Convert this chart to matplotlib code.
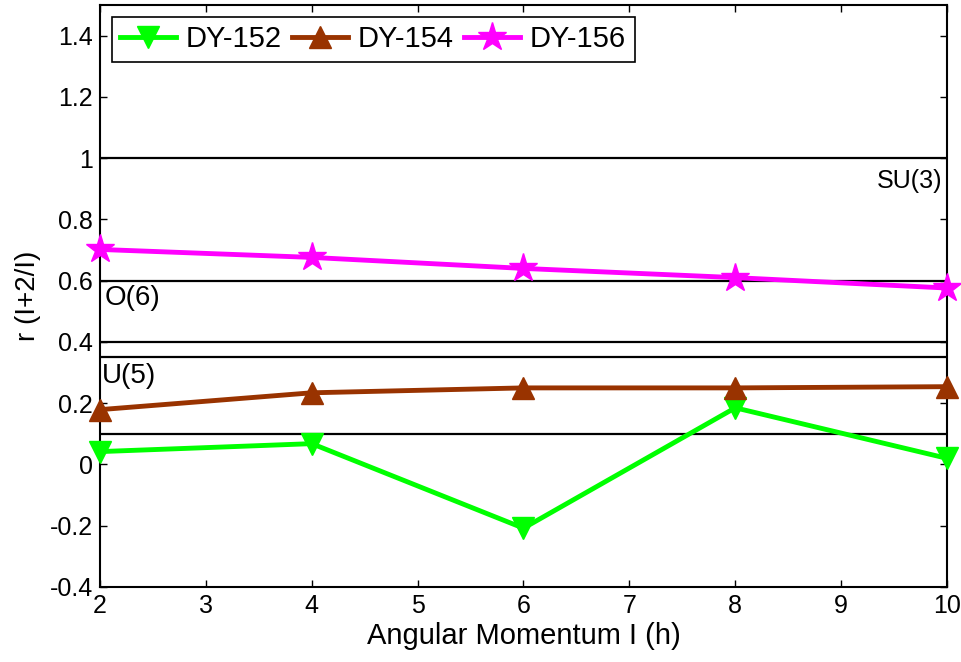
import matplotlib
matplotlib.use("Agg")
import matplotlib.pyplot as plt

plt.rcParams['font.family'] = ['Liberation Sans', 'DejaVu Sans']

spins = [2, 4, 6, 8, 10]
dy152 = [0.042, 0.068, -0.208, 0.185, 0.02]
dy154 = [0.179, 0.234, 0.250, 0.250, 0.254]
dy156 = [0.702, 0.676, 0.640, 0.610, 0.576]
limit_lines = [1.0, 0.6, 0.4, 0.35, 0.1]
limit_labels = ["SU(3)", "O(6)", "U(5)"]

fig = plt.figure(figsize=(9.62, 6.62), dpi=100)
ax = fig.add_axes([100/962, 1-587/662, 847/962, 582/662])

for y in limit_lines:
    ax.axhline(y, color='black', lw=1.6, zorder=1)

ax.plot(spins, dy152, color='#00FF00', lw=3.5, marker='v', ms=16, label='DY-152', zorder=3, clip_on=False)
ax.plot(spins, dy154, color='#993300', lw=3.5, marker='^', ms=16, label='DY-154', zorder=3, clip_on=False)
ax.plot(spins, dy156, color='#FF00FF', lw=3.5, marker='*', ms=21, label='DY-156', zorder=3, clip_on=False)

ax.text(9.96, 0.965, limit_labels[0], ha='right', va='top', fontsize=18)
ax.text(2.04, 0.585, limit_labels[1], ha='left', va='top', fontsize=20)
ax.text(2.02, 0.33, limit_labels[2], ha='left', va='top', fontsize=20)

ax.set_xlim(2, 10)
ax.set_ylim(-0.4, 1.5)
ax.set_xticks(range(2, 11))
ax.set_yticks([-0.4, -0.2, 0, 0.2, 0.4, 0.6, 0.8, 1.0, 1.2, 1.4])
ax.set_yticklabels(['-0.4', '-0.2', '0', '0.2', '0.4', '0.6', '0.8', '1', '1.2', '1.4'])
ax.tick_params(direction='in', length=5, width=1, labelsize=18, top=True, right=True, pad=5)
for s in ax.spines.values():
    s.set_linewidth(1.5)

ax.set_xlabel('Angular Momentum I (h)', fontsize=21, labelpad=3)
ax.set_ylabel('r (I+2/I)', fontsize=20, labelpad=6)

leg = ax.legend(loc='upper left', ncol=3, fontsize=21, frameon=True, fancybox=False,
                edgecolor='black', framealpha=1, handlelength=1.9, handletextpad=0.35,
                columnspacing=0.35, borderpad=0.3, borderaxespad=0.4)
leg.get_frame().set_linewidth(1.2)

fig.savefig('out.png', dpi=100)
